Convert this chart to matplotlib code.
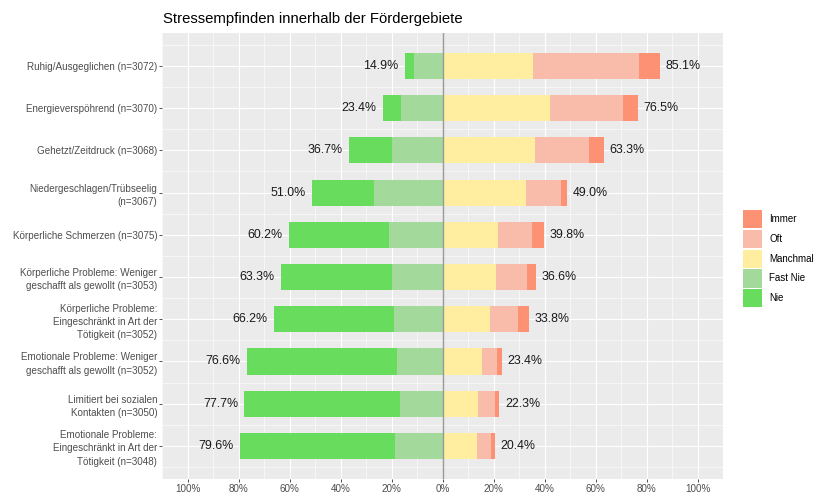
import numpy as np
import matplotlib
matplotlib.use("Agg")
import matplotlib.pyplot as plt
from matplotlib.patches import Rectangle

plt.rcParams['font.family'] = ['Liberation Sans', 'DejaVu Sans']

categories = [
    "Ruhig/Ausgeglichen (n=3072)",
    "Energieverspöhrend (n=3070)",
    "Gehetzt/Zeitdruck (n=3068)",
    "Niedergeschlagen/Trübseelig\n(n=3067)",
    "Körperliche Schmerzen (n=3075)",
    "Körperliche Probleme: Weniger\ngeschafft als gewollt (n=3053)",
    "Körperliche Probleme:\nEingeschränkt in Art der\nTötigkeit (n=3052)",
    "Emotionale Probleme: Weniger\ngeschafft als gewollt (n=3052)",
    "Limitiert bei sozialen\nKontakten (n=3050)",
    "Emotionale Probleme:\nEingeschränkt in Art der\nTötigkeit (n=3048)",
]
nie      = [3.6, 7.0, 17.0, 24.0, 39.2, 43.6, 47.2, 58.8, 61.1, 61.0]
fast_nie = [11.3, 16.4, 19.7, 27.0, 21.0, 19.7, 19.0, 17.8, 16.6, 18.6]
manchmal = [35.5, 42.2, 36.2, 32.7, 21.7, 20.8, 18.6, 15.4, 14.1, 13.6]
oft      = [41.7, 28.4, 21.4, 13.6, 13.5, 12.3, 11.2, 6.1, 6.5, 5.3]
immer    = [7.9, 5.9, 5.7, 2.7, 4.6, 3.5, 4.0, 1.9, 1.7, 1.5]

legend_labels = ["Immer", "Oft", "Manchmal", "Fast Nie", "Nie"]
colors = {"Immer": "#FC9173", "Oft": "#F9BBAA", "Manchmal": "#FFEDA0",
          "Fast Nie": "#A3D99B", "Nie": "#68DC5C"}
xticks = [-100, -80, -60, -40, -20, 0, 20, 40, 60, 80, 100]
xticklabels = ["100%", "80%", "60%", "40%", "20%", "0%", "20%", "40%", "60%", "80%", "100%"]
title = "Stressempfinden innerhalb der Fördergebiete"

W, H = 814, 493
fig = plt.figure(figsize=(W / 100, H / 100), dpi=100)
L, R, T, B = 162, 723, 33, 479.3
ax = fig.add_axes([L / W, 1 - B / H, (R - L) / W, (B - T) / H])
ax.set_facecolor("#EBEBEB")
for s in ax.spines.values():
    s.set_visible(False)

n = len(categories)
y = np.arange(n)
nie_a = np.array(nie); fn_a = np.array(fast_nie)
m_a = np.array(manchmal); o_a = np.array(oft); i_a = np.array(immer)
h = 0.62
ax.barh(y, -fn_a, left=0, height=h, color=colors["Fast Nie"], zorder=3, linewidth=0)
ax.barh(y, -nie_a, left=-fn_a, height=h, color=colors["Nie"], zorder=3, linewidth=0)
ax.barh(y, m_a, left=0, height=h, color=colors["Manchmal"], zorder=3, linewidth=0)
ax.barh(y, o_a, left=m_a, height=h, color=colors["Oft"], zorder=3, linewidth=0)
ax.barh(y, i_a, left=m_a + o_a, height=h, color=colors["Immer"], zorder=3, linewidth=0)

left_tot = nie_a + fn_a
right_tot = m_a + o_a + i_a
for yi, lt, rt in zip(y, left_tot, right_tot):
    ax.annotate(f"{lt:.1f}%", (-lt, yi), xytext=(-4.5, 0), textcoords="offset points",
                ha="right", va="center", fontsize=8.9, color="#1A1A1A", zorder=5)
    ax.annotate(f"{rt:.1f}%", (rt, yi), xytext=(4.0, 0), textcoords="offset points",
                ha="left", va="center", fontsize=8.9, color="#1A1A1A", zorder=5)

ax.axvline(0, color="#9A9A9A", lw=1.0, zorder=4)

ax.set_xlim(-109.4, 109.3)
ax.set_ylim(n - 1 + 0.79, -0.78)
ax.set_xticks(xticks)
ax.set_xticklabels(xticklabels)
ax.set_xticks(np.arange(-110, 111, 20), minor=True)
ax.set_yticks(y)
ax.set_yticklabels(categories, linespacing=1.38)
ax.set_yticks(np.arange(-0.5, n, 1.0), minor=True)
ax.tick_params(axis="both", which="major", labelsize=7.1, labelcolor="#4D4D4D",
               color="#333333", length=2.2, width=0.6, pad=1.3)
ax.tick_params(axis="both", which="minor", length=0)
ax.grid(True, which="major", color="white", lw=0.8, zorder=1)
ax.grid(True, which="minor", color="white", lw=0.4, zorder=1)
ax.set_axisbelow(True)

fig.text(163 / W, 1 - 22.7 / H, title, fontsize=10.7, ha="left", va="baseline", color="black")

# legend
key_x, key_w, key_h, step, top = 743, 19, 18.3, 19.75, 210
for k, lab in enumerate(legend_labels):
    y0 = top + k * step
    fig.add_artist(Rectangle((key_x / W, 1 - (y0 + key_h) / H), key_w / W, key_h / H,
                             transform=fig.transFigure, facecolor=colors[lab], edgecolor="none"))
    fig.text(769 / W, 1 - (y0 + key_h / 2) / H, lab, fontsize=7, ha="left", va="center",
             color="black")

fig.savefig("out.png", dpi=100)
